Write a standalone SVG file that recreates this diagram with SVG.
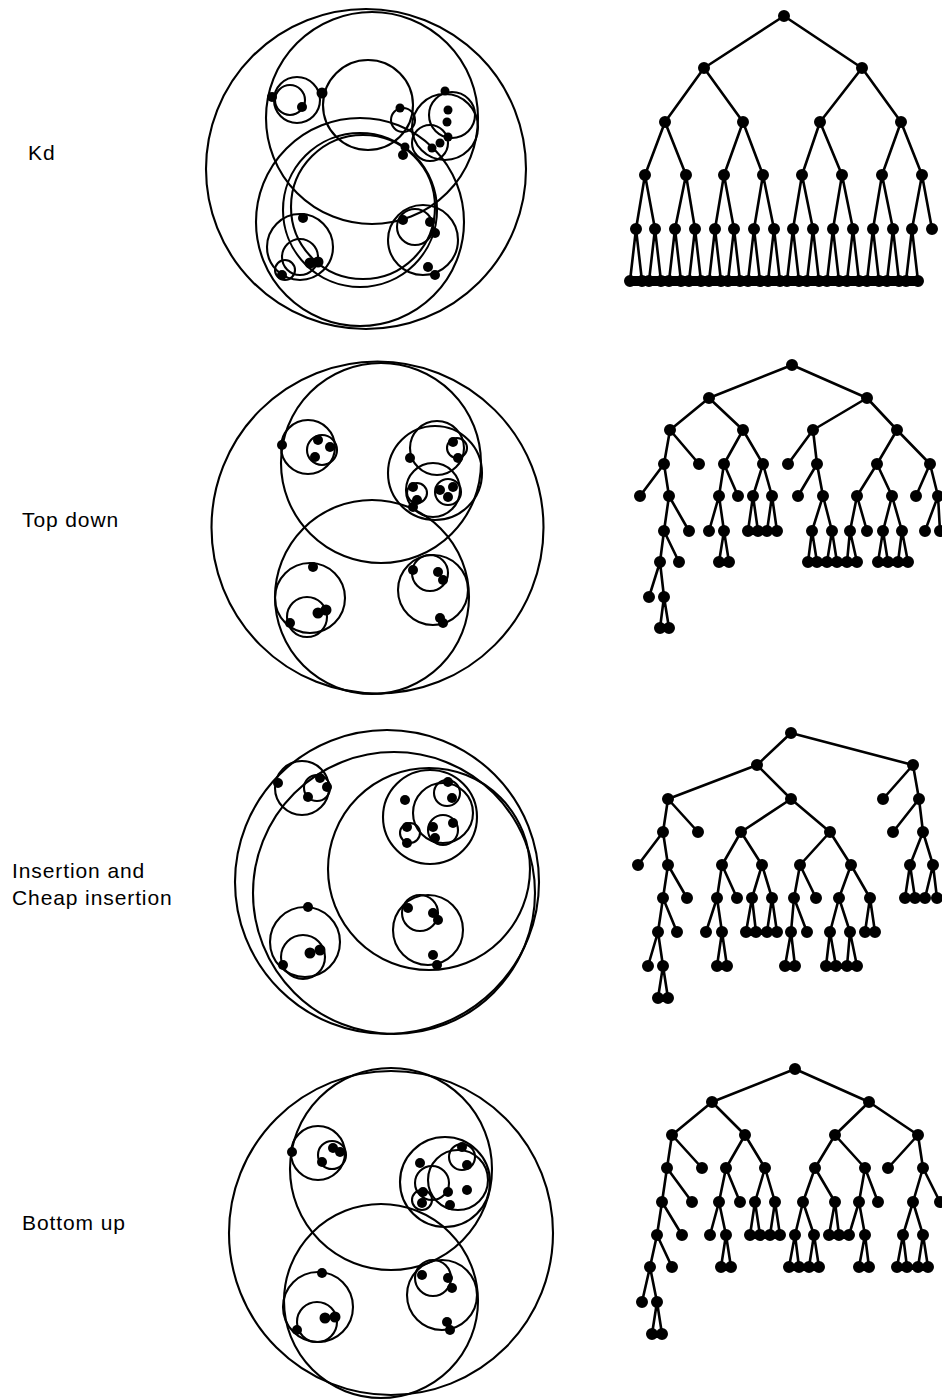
<svg xmlns="http://www.w3.org/2000/svg" width="942" height="1400" viewBox="0 0 942 1400">
<style>
.bg{fill:#fff}
.c{fill:none;stroke:#000;stroke-width:2.1}
.pt{fill:#000}
.e{fill:none;stroke:#000;stroke-width:2.6;stroke-linecap:round}
.nd{fill:none;stroke:#000;stroke-width:12;stroke-linecap:round}
.lbl{font-family:"Liberation Sans",Arial,sans-serif;font-size:21px;fill:#000;letter-spacing:0.9px}
</style>
<rect class="bg" x="0" y="0" width="942" height="1400"/>

<!-- Labels -->
<g id="labels">
<text class="lbl" x="28" y="160">Kd</text>
<text class="lbl" x="22" y="527">Top down</text>
<text class="lbl" x="12" y="878">Insertion and</text>
<text class="lbl" x="12" y="905">Cheap insertion</text>
<text class="lbl" x="22" y="1230">Bottom up</text>
</g>

<!-- Kd circles -->
<g id="kd-circles">
<circle class="c" cx="366" cy="169" r="160"/>
<circle class="c" cx="372" cy="118" r="106"/>
<circle class="c" cx="360" cy="222" r="104"/>
<circle class="c" cx="368" cy="105" r="45"/>
<circle class="c" cx="360" cy="210" r="77"/>
<circle class="c" cx="363" cy="207" r="72"/>
<circle class="c" cx="297" cy="100" r="23"/>
<circle class="c" cx="290" cy="100" r="15"/>
<circle class="c" cx="445" cy="127" r="33"/>
<circle class="c" cx="452" cy="115" r="23"/>
<circle class="c" cx="403" cy="120" r="12"/>
<circle class="c" cx="430" cy="143" r="18"/>
<circle class="c" cx="300" cy="247" r="33"/>
<circle class="c" cx="300" cy="257" r="18"/>
<circle class="c" cx="285" cy="270" r="10"/>
<circle class="c" cx="423" cy="240" r="35"/>
<circle class="c" cx="415" cy="227" r="18"/>
<circle class="pt" cx="272" cy="97" r="5"/>
<circle class="pt" cx="322" cy="93" r="5.5"/>
<circle class="pt" cx="302" cy="107" r="5"/>
<circle class="pt" cx="445" cy="91" r="4.5"/>
<circle class="pt" cx="448" cy="110" r="4.5"/>
<circle class="pt" cx="447" cy="122" r="4.5"/>
<circle class="pt" cx="400" cy="108" r="4.5"/>
<circle class="pt" cx="448" cy="137" r="4.5"/>
<circle class="pt" cx="440" cy="143" r="4.5"/>
<circle class="pt" cx="432" cy="148" r="4.5"/>
<circle class="pt" cx="405" cy="147" r="4.5"/>
<circle class="pt" cx="403" cy="155" r="5"/>
<circle class="pt" cx="303" cy="218" r="5"/>
<circle class="pt" cx="310" cy="263" r="5.5"/>
<circle class="pt" cx="318" cy="262" r="5.5"/>
<circle class="pt" cx="282" cy="275" r="5"/>
<circle class="pt" cx="403" cy="220" r="5"/>
<circle class="pt" cx="430" cy="222" r="5"/>
<circle class="pt" cx="435" cy="233" r="5"/>
<circle class="pt" cx="428" cy="267" r="5"/>
<circle class="pt" cx="435" cy="275" r="5"/>
</g>

<!-- Top down circles -->
<g id="topdown-circles">
<circle class="c" cx="377.5" cy="527.5" r="166"/>
<circle class="c" cx="381" cy="463" r="100"/>
<circle class="c" cx="372" cy="597" r="97"/>
<circle class="c" cx="308" cy="447" r="27"/>
<circle class="c" cx="322" cy="450" r="15"/>
<circle class="c" cx="435" cy="473" r="47"/>
<circle class="c" cx="437" cy="448" r="27"/>
<circle class="c" cx="433" cy="490" r="27"/>
<circle class="c" cx="417" cy="493" r="10"/>
<circle class="c" cx="448" cy="492" r="13"/>
<circle class="c" cx="457" cy="448" r="10"/>
<circle class="c" cx="310" cy="598" r="35"/>
<circle class="c" cx="307" cy="617" r="20"/>
<circle class="c" cx="433" cy="590" r="35"/>
<circle class="c" cx="430" cy="573" r="18"/>
<circle class="pt" cx="282" cy="445" r="5"/>
<circle class="pt" cx="318" cy="440" r="5"/>
<circle class="pt" cx="330" cy="447" r="5"/>
<circle class="pt" cx="315" cy="457" r="5"/>
<circle class="pt" cx="410" cy="458" r="5"/>
<circle class="pt" cx="453" cy="442" r="5"/>
<circle class="pt" cx="458" cy="458" r="5"/>
<circle class="pt" cx="413" cy="487" r="5"/>
<circle class="pt" cx="417" cy="500" r="5"/>
<circle class="pt" cx="440" cy="490" r="5"/>
<circle class="pt" cx="453" cy="487" r="5"/>
<circle class="pt" cx="448" cy="497" r="5"/>
<circle class="pt" cx="413" cy="507" r="5"/>
<circle class="pt" cx="313" cy="567" r="5"/>
<circle class="pt" cx="290" cy="623" r="5"/>
<circle class="pt" cx="318" cy="613" r="5.5"/>
<circle class="pt" cx="326" cy="610" r="5.5"/>
<circle class="pt" cx="413" cy="570" r="5"/>
<circle class="pt" cx="438" cy="572" r="5"/>
<circle class="pt" cx="443" cy="580" r="5"/>
<circle class="pt" cx="440" cy="618" r="5"/>
<circle class="pt" cx="443" cy="623" r="5"/>
</g>

<!-- Insertion circles -->
<g id="insertion-circles">
<circle class="c" cx="387" cy="882" r="152"/>
<circle class="c" cx="394" cy="893" r="141"/>
<circle class="c" cx="429" cy="869" r="101"/>
<circle class="c" cx="302" cy="788" r="27"/>
<circle class="c" cx="317" cy="788" r="13"/>
<circle class="c" cx="305" cy="942" r="35"/>
<circle class="c" cx="303" cy="957" r="22"/>
<circle class="c" cx="430" cy="817" r="47"/>
<circle class="c" cx="443" cy="813" r="30"/>
<circle class="c" cx="447" cy="793" r="13"/>
<circle class="c" cx="443" cy="830" r="15"/>
<circle class="c" cx="410" cy="833" r="10"/>
<circle class="c" cx="428" cy="930" r="35"/>
<circle class="c" cx="420" cy="913" r="18"/>
<circle class="pt" cx="278" cy="783" r="5"/>
<circle class="pt" cx="320" cy="778" r="5"/>
<circle class="pt" cx="327" cy="787" r="5"/>
<circle class="pt" cx="308" cy="797" r="5"/>
<circle class="pt" cx="308" cy="907" r="5"/>
<circle class="pt" cx="283" cy="965" r="5"/>
<circle class="pt" cx="310" cy="953" r="5.5"/>
<circle class="pt" cx="320" cy="950" r="5.5"/>
<circle class="pt" cx="405" cy="800" r="5"/>
<circle class="pt" cx="448" cy="782" r="5"/>
<circle class="pt" cx="452" cy="798" r="5"/>
<circle class="pt" cx="407" cy="827" r="5"/>
<circle class="pt" cx="407" cy="843" r="5"/>
<circle class="pt" cx="433" cy="827" r="5"/>
<circle class="pt" cx="453" cy="823" r="5"/>
<circle class="pt" cx="435" cy="838" r="5"/>
<circle class="pt" cx="408" cy="908" r="5"/>
<circle class="pt" cx="433" cy="913" r="5"/>
<circle class="pt" cx="438" cy="920" r="5"/>
<circle class="pt" cx="433" cy="955" r="5"/>
<circle class="pt" cx="437" cy="965" r="5"/>
</g>

<!-- Bottom up circles -->
<g id="bottomup-circles">
<circle class="c" cx="391" cy="1233" r="162"/>
<circle class="c" cx="391" cy="1169" r="101"/>
<circle class="c" cx="381" cy="1301" r="97"/>
<circle class="c" cx="318" cy="1153" r="27"/>
<circle class="c" cx="332" cy="1155" r="14"/>
<circle class="c" cx="445" cy="1182" r="45"/>
<circle class="c" cx="458" cy="1180" r="30"/>
<circle class="c" cx="462" cy="1157" r="13"/>
<circle class="c" cx="422" cy="1200" r="10"/>
<circle class="c" cx="432" cy="1183" r="17"/>
<circle class="c" cx="318" cy="1307" r="35"/>
<circle class="c" cx="317" cy="1322" r="20"/>
<circle class="c" cx="442" cy="1295" r="35"/>
<circle class="c" cx="433" cy="1278" r="18"/>
<circle class="pt" cx="292" cy="1152" r="5"/>
<circle class="pt" cx="333" cy="1148" r="5"/>
<circle class="pt" cx="340" cy="1152" r="5"/>
<circle class="pt" cx="322" cy="1162" r="5"/>
<circle class="pt" cx="420" cy="1163" r="5"/>
<circle class="pt" cx="462" cy="1147" r="5"/>
<circle class="pt" cx="467" cy="1165" r="5"/>
<circle class="pt" cx="423" cy="1192" r="5"/>
<circle class="pt" cx="422" cy="1203" r="5"/>
<circle class="pt" cx="448" cy="1192" r="5"/>
<circle class="pt" cx="467" cy="1190" r="5"/>
<circle class="pt" cx="450" cy="1205" r="5"/>
<circle class="pt" cx="322" cy="1273" r="5"/>
<circle class="pt" cx="297" cy="1330" r="5"/>
<circle class="pt" cx="325" cy="1318" r="5.5"/>
<circle class="pt" cx="335" cy="1317" r="5.5"/>
<circle class="pt" cx="422" cy="1275" r="5"/>
<circle class="pt" cx="448" cy="1278" r="5"/>
<circle class="pt" cx="452" cy="1288" r="5"/>
<circle class="pt" cx="447" cy="1322" r="5"/>
<circle class="pt" cx="450" cy="1330" r="5"/>
</g>

<!-- Tree connectors -->
<g id="connectors">
<path id="kd-edges" class="e" d="M784 16L704 68M784 16L862 68M704 68L665 122M704 68L743 122M862 68L820 122M862 68L901 122M665 122L645 175M665 122L686 175M743 122L724 175M743 122L763 175M820 122L802 175M820 122L842 175M901 122L882 175M901 122L922 175M645 175L636 229M645 175L655 229M686 175L675 229M686 175L695 229M724 175L715 229M724 175L734 229M763 175L754 229M763 175L774 229M802 175L793 229M802 175L813 229M842 175L833 229M842 175L853 229M882 175L873 229M882 175L893 229M922 175L912 229M922 175L932 229M636 229L630 281M636 229L642 281M655 229L649 281M655 229L661 281M675 229L669 281M675 229L681 281M695 229L689 281M695 229L701 281M715 229L709 281M715 229L721 281M734 229L728 281M734 229L740 281M754 229L748 281M754 229L760 281M774 229L768 281M774 229L780 281M793 229L787 281M793 229L799 281M813 229L807 281M813 229L819 281M833 229L827 281M833 229L839 281M853 229L847 281M853 229L859 281M873 229L867 281M873 229L879 281M893 229L887 281M893 229L899 281M912 229L906 281M912 229L918 281"/>
<path id="topdown-edges" class="e" d="M792 365L709 398M792 365L867 398M709 398L670 430M709 398L743 430M867 398L813 430M867 398L897 430M670 430L664 464M670 430L699 464M664 464L640 496M664 464L669 496M669 496L664 531M669 496L689 531M664 531L660 562M664 531L679 562M660 562L649 597M660 562L664 597M664 597L660 628M664 597L669 628M743 430L724 464M743 430L763 464M724 464L719 496M724 464L738 496M719 496L709 531M719 496L724 531M724 531L719 562M724 531L729 562M763 464L753 496M763 464L772 496M753 496L748 531M753 496L758 531M772 496L767 531M772 496L777 531M813 430L788 464M813 430L817 464M817 464L798 496M817 464L823 496M823 496L812 531M823 496L832 531M812 531L808 562M812 531L817 562M832 531L827 562M832 531L837 562M897 430L877 464M897 430L930 464M877 464L857 496M877 464L892 496M857 496L850 531M857 496L867 531M850 531L847 562M850 531L857 562M892 496L883 531M892 496L902 531M883 531L878 562M883 531L888 562M902 531L898 562M902 531L908 562M930 464L916 496M930 464L938 496M938 496L925 531M938 496L940 531"/>
<path id="insertion-edges" class="e" d="M791 733L757 765M791 733L913 765M757 765L668 799M757 765L791 799M668 799L663 832M668 799L698 832M663 832L638 865M663 832L668 865M668 865L663 898M668 865L687 898M663 898L658 932M663 898L677 932M658 932L648 966M658 932L663 966M663 966L658 998M663 966L668 998M791 799L741 832M791 799L830 832M741 832L722 865M741 832L762 865M722 865L717 898M722 865L737 898M717 898L706 932M717 898L722 932M722 932L717 966M722 932L727 966M762 865L752 898M762 865L772 898M752 898L746 932M752 898L756 932M772 898L767 932M772 898L777 932M830 832L800 865M830 832L851 865M800 865L794 898M800 865L816 898M794 898L791 932M794 898L807 932M791 932L785 966M791 932L795 966M851 865L839 898M851 865L870 898M839 898L830 932M839 898L850 932M830 932L826 966M830 932L836 966M850 932L847 966M850 932L857 966M870 898L865 932M870 898L875 932M913 765L883 799M913 765L919 799M919 799L893 832M919 799L923 832M923 832L910 865M923 832L933 865M910 865L905 898M910 865L915 898M933 865L925 898M933 865L937 898"/>
<path id="bottomup-edges" class="e" d="M795 1069L712 1102M795 1069L869 1102M712 1102L672 1135M712 1102L745 1135M672 1135L667 1168M672 1135L702 1168M667 1168L662 1202M667 1168L692 1202M662 1202L657 1235M662 1202L682 1235M657 1235L650 1267M657 1235L672 1267M650 1267L642 1302M650 1267L657 1302M657 1302L652 1334M657 1302L662 1334M745 1135L726 1168M745 1135L765 1168M726 1168L719 1202M726 1168L740 1202M719 1202L710 1235M719 1202L726 1235M726 1235L721 1267M726 1235L731 1267M765 1168L755 1202M765 1168L775 1202M755 1202L750 1235M755 1202L760 1235M775 1202L770 1235M775 1202L780 1235M869 1102L835 1135M869 1102L918 1135M835 1135L815 1168M835 1135L865 1168M815 1168L803 1202M815 1168L835 1202M803 1202L795 1235M803 1202L814 1235M795 1235L789 1267M795 1235L799 1267M814 1235L809 1267M814 1235L819 1267M835 1202L829 1235M835 1202L839 1235M865 1168L859 1202M865 1168L878 1202M859 1202L849 1235M859 1202L865 1235M865 1235L859 1267M865 1235L869 1267M918 1135L888 1168M918 1135L923 1168M923 1168L913 1202M923 1168L940 1202M913 1202L903 1235M913 1202L923 1235M903 1235L897 1267M903 1235L907 1267M923 1235L918 1267M923 1235L928 1267"/>
</g>

<!-- Tree nodes -->
<g id="kd-tree-nodes">
<path class="nd" d="M784 16h0M704 68h0M862 68h0M665 122h0M743 122h0M820 122h0M901 122h0M645 175h0M686 175h0M724 175h0M763 175h0M802 175h0M842 175h0M882 175h0M922 175h0M636 229h0M655 229h0M675 229h0M695 229h0M715 229h0M734 229h0M754 229h0M774 229h0M793 229h0M813 229h0M833 229h0M853 229h0M873 229h0M893 229h0M912 229h0M932 229h0M630 281h0M642 281h0M649 281h0M661 281h0M669 281h0M681 281h0M689 281h0M701 281h0M709 281h0M721 281h0M728 281h0M740 281h0M748 281h0M760 281h0M768 281h0M780 281h0M787 281h0M799 281h0M807 281h0M819 281h0M827 281h0M839 281h0M847 281h0M859 281h0M867 281h0M879 281h0M887 281h0M899 281h0M906 281h0M918 281h0"/>
<path class="e" d="M630 281H918" style="stroke-width:10"/>
</g>
<g id="topdown-tree-nodes">
<path class="nd" d="M792 365h0M709 398h0M867 398h0M670 430h0M743 430h0M813 430h0M897 430h0M664 464h0M699 464h0M640 496h0M669 496h0M664 531h0M689 531h0M660 562h0M679 562h0M649 597h0M664 597h0M660 628h0M669 628h0M724 464h0M763 464h0M719 496h0M738 496h0M709 531h0M724 531h0M719 562h0M729 562h0M753 496h0M772 496h0M748 531h0M758 531h0M767 531h0M777 531h0M788 464h0M817 464h0M798 496h0M823 496h0M812 531h0M832 531h0M808 562h0M817 562h0M827 562h0M837 562h0M877 464h0M930 464h0M857 496h0M892 496h0M850 531h0M867 531h0M847 562h0M857 562h0M883 531h0M902 531h0M878 562h0M888 562h0M898 562h0M908 562h0M916 496h0M938 496h0M925 531h0M940 531h0"/>
</g>
<g id="insertion-tree-nodes">
<path class="nd" d="M791 733h0M757 765h0M913 765h0M668 799h0M791 799h0M663 832h0M698 832h0M638 865h0M668 865h0M663 898h0M687 898h0M658 932h0M677 932h0M648 966h0M663 966h0M658 998h0M668 998h0M741 832h0M830 832h0M722 865h0M762 865h0M717 898h0M737 898h0M706 932h0M722 932h0M717 966h0M727 966h0M752 898h0M772 898h0M746 932h0M756 932h0M767 932h0M777 932h0M800 865h0M851 865h0M794 898h0M816 898h0M791 932h0M807 932h0M785 966h0M795 966h0M839 898h0M870 898h0M830 932h0M850 932h0M826 966h0M836 966h0M847 966h0M857 966h0M865 932h0M875 932h0M883 799h0M919 799h0M893 832h0M923 832h0M910 865h0M933 865h0M905 898h0M915 898h0M925 898h0M937 898h0"/>
</g>
<g id="bottomup-tree-nodes">
<path class="nd" d="M795 1069h0M712 1102h0M869 1102h0M672 1135h0M745 1135h0M667 1168h0M702 1168h0M662 1202h0M692 1202h0M657 1235h0M682 1235h0M650 1267h0M672 1267h0M642 1302h0M657 1302h0M652 1334h0M662 1334h0M726 1168h0M765 1168h0M719 1202h0M740 1202h0M710 1235h0M726 1235h0M721 1267h0M731 1267h0M755 1202h0M775 1202h0M750 1235h0M760 1235h0M770 1235h0M780 1235h0M835 1135h0M918 1135h0M815 1168h0M865 1168h0M803 1202h0M835 1202h0M795 1235h0M814 1235h0M789 1267h0M799 1267h0M809 1267h0M819 1267h0M829 1235h0M839 1235h0M859 1202h0M878 1202h0M849 1235h0M865 1235h0M859 1267h0M869 1267h0M888 1168h0M923 1168h0M913 1202h0M940 1202h0M903 1235h0M923 1235h0M897 1267h0M907 1267h0M918 1267h0M928 1267h0"/>
</g>
</svg>
